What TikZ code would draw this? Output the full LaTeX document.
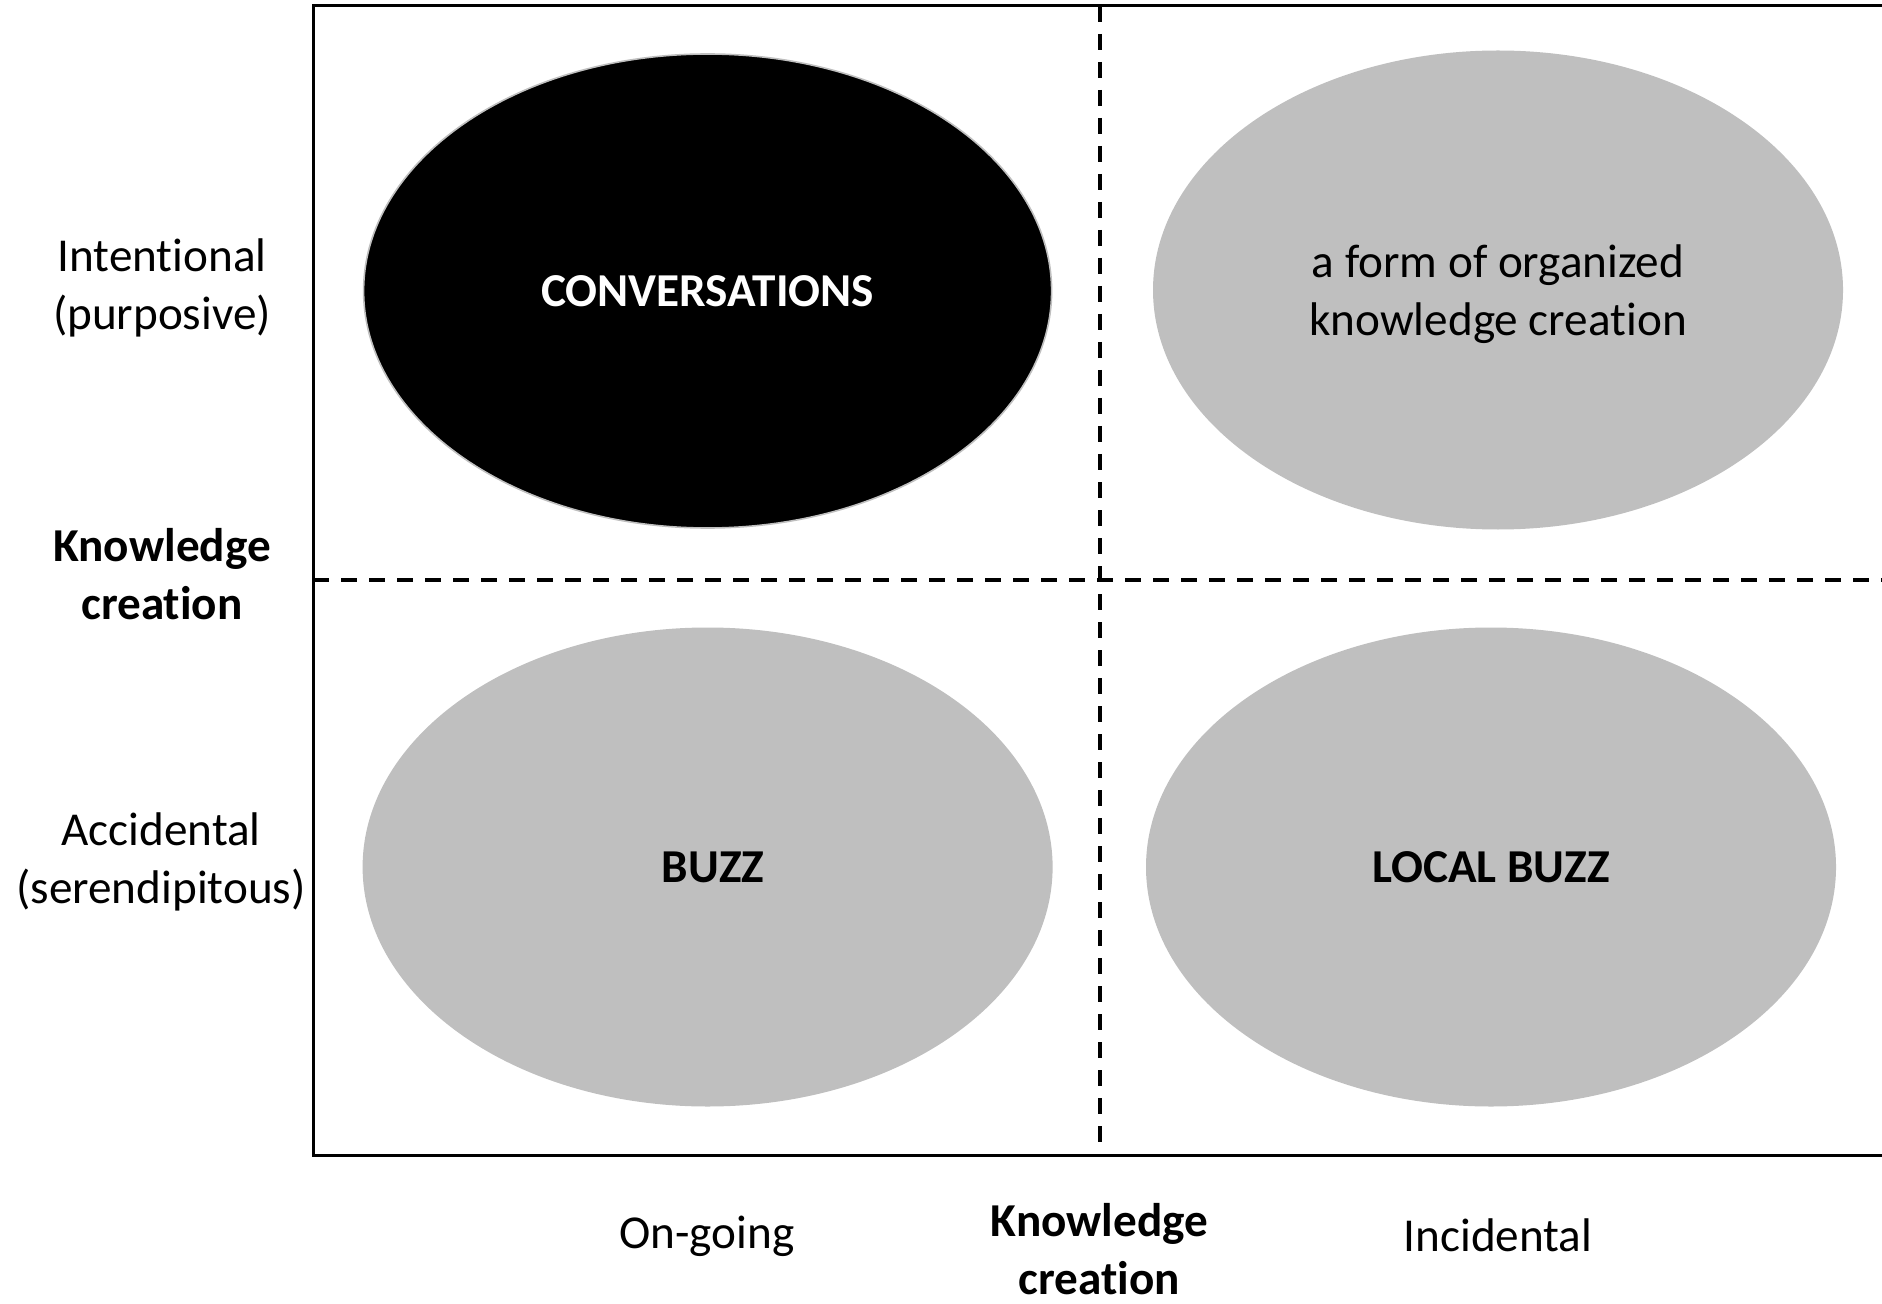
\documentclass[tikz,border=0pt]{standalone}
\usepackage{fontspec}
\setmainfont{Carlito}[Ligatures=NoCommon]
\usetikzlibrary{shapes.geometric}
\definecolor{softgrey}{RGB}{191,191,191}
\tikzset{
  lbl/.style={align=center, inner sep=0pt, font=\fontsize{23.6pt}{28.8pt}\selectfont},
  blbl/.style={lbl, font=\fontsize{23.6pt}{28.8pt}\selectfont\bfseries},
  oval/.style={ellipse, inner sep=0pt, align=center,
    font=\fontsize{23.6pt}{28.8pt}\selectfont},
  greyoval/.style={oval, fill=softgrey, minimum width=345pt, minimum height=239.5pt},
  frame/.style={line width=1.5pt, line cap=rect},
  divider/.style={line width=1.8pt, dash pattern=on 8pt off 6pt}
}
\begin{document}
\begin{tikzpicture}[x=0.5pt, y=-0.5pt]
  \useasboundingbox (0,0) rectangle (1882,1304);

  % frame corners (open on the right)
  \coordinate (tr) at (1882,6);
  \coordinate (tl) at (313,6);
  \coordinate (bl) at (313,1155);
  \coordinate (br) at (1882,1155);
  % divider end points
  \coordinate (vtop) at (1100,6);
  \coordinate (vbot) at (1100,1155);
  \coordinate (hleft) at (313,580);
  \coordinate (hright) at (1882,580);

  % quadrant ovals
  \node[oval, fill=black, draw=softgrey, line width=0.8pt, text=white,
        minimum width=344pt, minimum height=237pt,
        font=\fontsize{23.6pt}{28.8pt}\selectfont\bfseries]
        (conv) at (707.6,291) {CONVERSATIONS};
  \node[greyoval] (organized) at (1498,290) {};
  \node[lbl] (organizedtext) at (1498,294) {a form of organized\\knowledge creation};
  \node[greyoval] (buzz) at (707.6,867) {};
  \node[blbl] (buzztext) at (713,867) {BUZZ};
  \node[greyoval, font=\fontsize{23.6pt}{28.8pt}\selectfont\bfseries]
        (localbuzz) at (1491,867) {LOCAL BUZZ};

  % frame and dividers
  \draw[frame] (tr) -- (tl) -- (bl) -- (br);
  \draw[divider] (vtop) -- (vbot);
  \draw[divider] (hleft) -- (hright);

  % vertical axis labels
  \node[lbl] (intentional) at (162,288) {Intentional\\(purposive)};
  \node[blbl] (yaxis) at (162,574) {Knowledge\\creation};
  \node[lbl] (accidental) at (161,862) {Accidental\\(serendipitous)};

  % horizontal axis labels
  \node[lbl] (ongoing) at (707,1236) {On-going};
  \node[blbl] (xaxis) at (1099.5,1249) {Knowledge\\creation};
  \node[lbl] (incidental) at (1498,1235) {Incidental};
\end{tikzpicture}
\end{document}
